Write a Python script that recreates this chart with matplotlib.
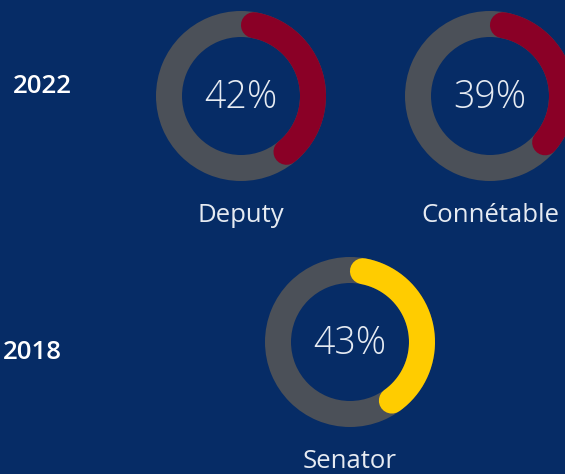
import matplotlib.pyplot as plt
import matplotlib.patches as mpatches
import numpy as np

# chart data
labels = ["Deputy", "Connétable", "Senator"]
percents = [42, 39, 43]
arc_colors = ["#8a0026", "#8a0026", "#ffcc00"]
row_labels = ["2022", "2018"]

# layout (pixel coords, y down)
centers = [(241, 96), (490, 96), (350, 342)]
row_pos = [(13, 93), (3, 359)]
R_OUT, RING = 85, 26
BG = "#062c66"
TRACK = "#4b5058"
TXT = "#e6ebf2"

plt.rcParams['font.family'] = ['Open Sans', 'DejaVu Sans']

fig = plt.figure(figsize=(5.65, 4.74), dpi=100)
fig.patch.set_facecolor(BG)
ax = fig.add_axes([0, 0, 1, 1])
ax.set_xlim(0, 565)
ax.set_ylim(474, 0)
ax.set_aspect('equal')
ax.axis('off')

lw = RING * 72 / 100  # px -> pt
r_mid = R_OUT - RING / 2
cap = np.degrees((RING / 2) / r_mid)

for (cx, cy), lab, pct, col in zip(centers, labels, percents, arc_colors):
    ax.add_patch(mpatches.Wedge((cx, cy), R_OUT, 0, 360, width=RING,
                                facecolor=TRACK, edgecolor='none'))
    # clockwise from 12 o'clock, y axis points down
    a = np.radians(np.linspace(cap, pct / 100 * 360 - cap, 200))
    ax.plot(cx + r_mid * np.sin(a), cy - r_mid * np.cos(a), color=col,
            lw=lw, solid_capstyle='round')
    ax.text(cx, cy + 12, f"{pct}%", ha='center', va='baseline', fontsize=27,
            color=TXT, fontweight='light')
    ax.text(cx, cy + 126, lab, ha='center', va='baseline', fontsize=18.5,
            color=TXT)

for lab, (x, y) in zip(row_labels, row_pos):
    ax.text(x, y, lab, ha='left', va='baseline',
            fontsize=18.5, color='white', fontweight='semibold')

fig.savefig("out.png", dpi=100, facecolor=BG)
